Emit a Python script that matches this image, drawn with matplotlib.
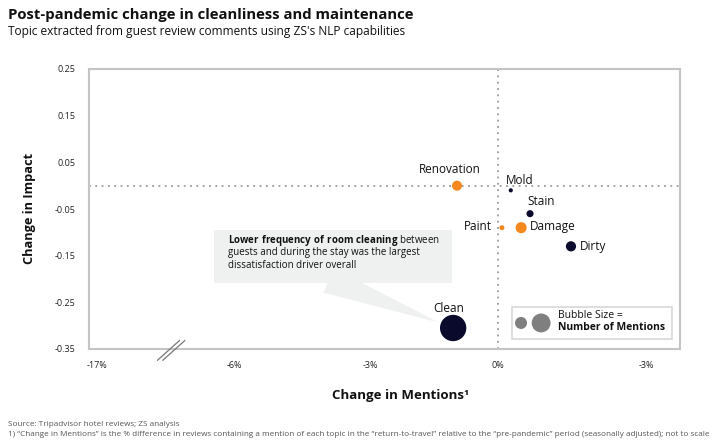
import numpy as np
import matplotlib
matplotlib.use("Agg")
import matplotlib.pyplot as plt
from matplotlib.patches import Rectangle
from matplotlib.lines import Line2D

plt.rcParams['font.family'] = ['Open Sans', 'DejaVu Sans']
plt.rcParams['mathtext.fontset'] = 'custom'
plt.rcParams['mathtext.bf'] = 'Open Sans:bold'
plt.rcParams['mathtext.rm'] = 'Open Sans'

# data
topics = ["Renovation", "Mold", "Stain", "Paint", "Damage", "Dirty", "Clean"]
mentions_change = [-0.96, 0.26, 0.65, 0.08, 0.47, 1.48, -1.05]   # % (not to scale)
impact_change = [0.0, -0.01, -0.06, -0.09, -0.09, -0.13, -0.305]
bubble_size = [52, 9, 26, 13, 64, 54, 360]
group = ["maint", "clean", "clean", "maint", "maint", "clean", "clean"]

x_ticks = [-17, -6, -3, 0, 3]
x_ticklabels = ["-17%", "-6%", "-3%", "0%", "-3%"]
y_ticks = [0.25, 0.15, 0.05, -0.05, -0.15, -0.25, -0.35]

NAVY = "#0a0a2c"
ORANGE = "#f5891f"
colors = {"maint": ORANGE, "clean": NAVY}

# broken, not-to-scale x axis
knot_pos = [97, 234, 370, 498, 646]


def _pw(v, a, b):
    v = np.asarray(v, dtype=float)
    out = np.interp(v, a, b)
    lo_slope = (b[1] - b[0]) / (a[1] - a[0])
    hi_slope = (b[-1] - b[-2]) / (a[-1] - a[-2])
    out = np.where(v < a[0], b[0] + (v - a[0]) * lo_slope, out)
    out = np.where(v > a[-1], b[-1] + (v - a[-1]) * hi_slope, out)
    return out


def fwd(v):
    return _pw(v, x_ticks, knot_pos)


def inv(v):
    return _pw(v, knot_pos, x_ticks)


fig = plt.figure(figsize=(7.21, 4.47), dpi=100)
W, H = 721, 447
ax = fig.add_axes([89 / W, 1 - 349 / H, (680 - 89) / W, (349 - 69) / H])
ax.set_xscale('function', functions=(fwd, inv))
ax.set_xlim(-17.64, 3.69)
ax.set_ylim(-0.35, 0.25)

for s in ax.spines.values():
    s.set_color("#c4c4c4")
    s.set_linewidth(1.5)

ax.set_xticks(x_ticks)
ax.set_xticklabels(x_ticklabels)
ax.set_yticks(y_ticks)
ax.set_yticklabels([f"{t:.2f}" for t in y_ticks])
ax.tick_params(length=0, labelsize=6.5, colors="#222222")
ax.tick_params(axis='x', pad=8.5)
ax.tick_params(axis='y', pad=9.5)
ax.minorticks_off()

ax.axhline(0, color="#9a9a9a", ls=(0, (1, 2.5)), lw=1.3, zorder=1)
ax.axvline(0, color="#9a9a9a", ls=(0, (1, 2.5)), lw=1.3, zorder=1)

ax.scatter(mentions_change, impact_change, s=bubble_size,
           c=[colors[g] for g in group], zorder=3, linewidths=0)

offsets = {
    "Renovation": ((-7, 16), 'center'),
    "Mold": ((-5, 10), 'left'),
    "Stain": ((-3, 12), 'left'),
    "Paint": ((-10, 1), 'right'),
    "Damage": ((9, 1), 'left'),
    "Dirty": ((9, 0), 'left'),
    "Clean": ((-4, 20), 'center'),
}
for name, xv, yv in zip(topics, mentions_change, impact_change):
    off, ha = offsets[name]
    ax.annotate(name, (xv, yv), xytext=off, textcoords='offset pixels',
                ha=ha, va='center', fontsize=8.5, color="#111111", zorder=4)

# callout
ci = topics.index("Clean")
ax.add_patch(Rectangle((0.211, 0.236), 0.403, 0.189, transform=ax.transAxes,
                       facecolor="#eff1f1", edgecolor='none', zorder=2))
ax.annotate("", xy=(mentions_change[ci], impact_change[ci]),
            xytext=(0.405, 0.245), textcoords='axes fraction',
            arrowprops=dict(arrowstyle="wedge,tail_width=1.9,shrink_factor=0.5",
                            fc="#eff1f1", ec='none', shrinkA=0, shrinkB=11),
            zorder=2)
call_lines = [r"$\bf{Lower\ frequency\ of\ room\ cleaning}$ between",
              "guests and during the stay was the largest",
              "dissatisfaction driver overall"]
for i, line in enumerate(call_lines):
    ax.text(0.235, 0.386 - i * 0.043, line, transform=ax.transAxes,
            fontsize=7, color="#111111", va='center', ha='left', zorder=3)

# bubble size key
ax.add_patch(Rectangle((0.716, 0.036), 0.27, 0.114, transform=ax.transAxes,
                       facecolor='white', edgecolor="#d8d8d8", lw=1.2, zorder=3))
ax.scatter([0.731, 0.765], [0.093, 0.093], s=[75, 185], color="#7f7f7f",
           transform=ax.transAxes, zorder=4, linewidths=0, clip_on=False)
ax.text(0.794, 0.121, "Bubble Size =", transform=ax.transAxes, fontsize=7.5,
        va='center', ha='left', color="#111111", zorder=4)
ax.text(0.794, 0.075, "Number of Mentions", transform=ax.transAxes, fontsize=7.5,
        fontweight='bold', va='center', ha='left', color="#111111", zorder=4)

# axis break marks
for dx in (0.0, 0.009):
    ax.add_line(Line2D([0.116 + dx, 0.153 + dx], [-0.04, 0.03], transform=ax.transAxes,
                       color="#777777", lw=0.9, clip_on=False, zorder=5))

# titles and labels
fig.text(8 / W, 1 - 15 / H, "Post-pandemic change in cleanliness and maintenance",
         fontsize=10.7, fontweight='bold', color="#111111", va='center')
fig.text(8 / W, 1 - 32 / H, "Topic extracted from guest review comments using ZS's NLP capabilities",
         fontsize=8.6, color="#111111", va='center')
fig.text(30 / W, 1 - 208 / H, "Change in Impact", rotation=90, fontsize=9.2,
         fontweight='bold', color="#111111", va='center', ha='center')
fig.text(400 / W, 1 - 395 / H, "Change in Mentions¹", fontsize=9.5,
         fontweight='bold', color="#111111", va='center', ha='center')
fig.text(8 / W, 1 - 424 / H, "Source: Tripadvisor hotel reviews; ZS analysis",
         fontsize=5.9, color="#555555", va='center')
fig.text(8 / W, 1 - 434 / H,
         "1) \u201cChange in Mentions\u201d is the % difference in reviews containing a mention of each topic "
         "in the \u201creturn-to-travel\u201d relative to the \u201cpre-pandemic\u201d period (seasonally adjusted); not to scale",
         fontsize=5.9, color="#555555", va='center')

fig.savefig("out.png", dpi=100)
